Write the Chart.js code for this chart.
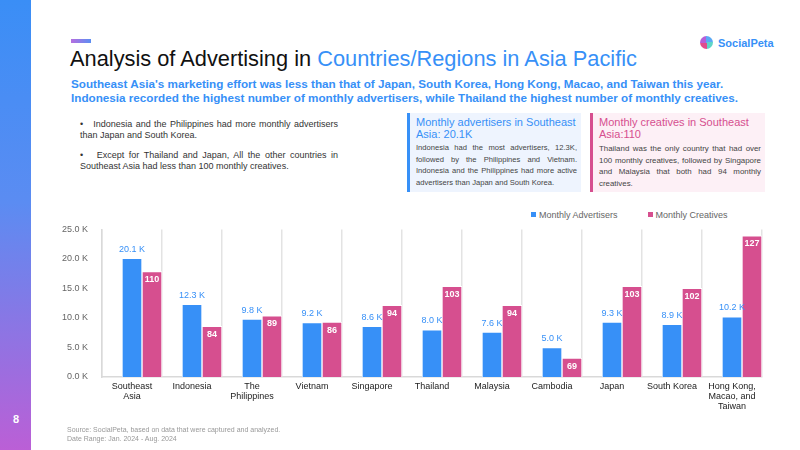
<!DOCTYPE html>
<html>
<head>
<meta charset="utf-8">
<script src="https://cdn.jsdelivr.net/npm/chart.js@4"></script>
<style>
  body { margin: 0; width: 800px; height: 450px; position: relative; overflow: hidden; background: #fff; font-family: "Liberation Sans", Arial, sans-serif; }
  .strip { position: absolute; left: 0; top: 0; width: 31px; height: 450px; background: linear-gradient(#3a8ef6, #5b8cf2 45%, #bb5fd6); }
  .pageno { position: absolute; left: 10px; top: 413px; width: 12px; text-align: center; color: #fff; font-weight: bold; font-size: 11px; }
  .accent { position: absolute; left: 71px; top: 39px; width: 20px; height: 4px; background: linear-gradient(90deg, #b56ee0, #5b8ef2); }
  h1 { position: absolute; left: 70px; top: 46px; margin: 0; font-weight: normal; font-size: 21.8px; color: #111; white-space: nowrap; }
  h1 span, .sub { color: #3790f7; }
  .sub { position: absolute; left: 71px; top: 77px; margin: 0; font-weight: bold; font-size: 11.7px; line-height: 14px; white-space: nowrap; }
  .logo { position: absolute; left: 700px; top: 36px; font-weight: bold; font-size: 11px; color: #3790f7; display: flex; align-items: center; gap: 5px; }
  .logo i { display: inline-block; width: 13px; height: 13px; border-radius: 50%; background: conic-gradient(#5aa9f5 0 25%, #5fd5c8 0 50%, #e04d8c 0 75%, #b55ed8 0); }
  .bullets { position: absolute; left: 80px; top: 119px; width: 258px; font-size: 9px; color: #333; line-height: 11px; text-align: justify; }
  .bullets p { margin: 0 0 8.5px 0; }
  .box { position: absolute; top: 113px; height: 79px; padding: 3px 4px 0 6px; box-sizing: border-box; }
  .box.blue { left: 407px; width: 174px; background: #eef4fe; border-left: 3px solid #3790f7; }
  .box.pink { left: 590px; width: 175px; background: #fdf0f6; border-left: 3px solid #d64f8f; }
  .box h3 { margin: 0; font-weight: normal; font-size: 11px; line-height: 12px; }
  .box.blue h3 { color: #3790f7; }
  .box.pink h3 { color: #d64f8f; }
  .box div { color: #444; line-height: 11.5px; text-align: justify; margin-top: 2px; }
  .box.blue div { font-size: 7.6px; }
  .box.pink div { font-size: 7.9px; margin-top: 3px; }
  .box .full { display: block; text-align-last: justify; }
  .legend { position: absolute; left: 531px; top: 210px; font-size: 9px; color: #666; display: flex; gap: 30px; white-space: nowrap; }
  .legend b { display: inline-block; width: 5px; height: 5px; margin-right: 3px; vertical-align: 1px; }
  #chartWrap { position: absolute; left: 50px; top: 218px; width: 714px; height: 209px; }
  .foot { position: absolute; left: 67px; top: 425px; font-size: 7px; color: #999; line-height: 9px; }
</style>
</head>
<body>
<div class="strip"></div>
<div class="pageno">8</div>
<div class="accent"></div>
<h1>Analysis of Advertising in <span>Countries/Regions in Asia Pacific</span></h1>
<p class="sub">Southeast Asia's marketing effort was less than that of Japan, South Korea, Hong Kong, Macao, and Taiwan this year.<br>Indonesia recorded the highest number of monthly advertisers, while Thailand the highest number of monthly creatives.</p>
<div class="logo"><i></i>SocialPeta</div>

<div class="bullets">
  <p>•&nbsp;&nbsp; Indonesia and the Philippines had more monthly advertisers than Japan and South Korea.</p>
  <p>•&nbsp;&nbsp; Except for Thailand and Japan, All the other countries in Southeast Asia had less than 100 monthly creatives.</p>
</div>

<div class="box blue">
  <h3>Monthly advertisers in Southeast Asia: 20.1K</h3>
  <div>Indonesia had the most advertisers, 12.3K, followed by the Philippines and Vietnam. Indonesia and the Philippines had more active advertisers than Japan and South Korea.</div>
</div>
<div class="box pink">
  <h3>Monthly creatives in Southeast Asia:110</h3>
  <div><span class="full">Thailand was the only country that had over</span>100 monthly creatives, followed by Singapore and Malaysia that both had 94 monthly creatives.</div>
</div>

<div class="legend">
  <span><b style="background:#3790f7"></b>Monthly Advertisers</span>
  <span><b style="background:#d64f8f"></b>Monthly Creatives</span>
</div>

<div id="chartWrap"><canvas id="barChart"></canvas></div>

<div class="foot">Source: SocialPeta, based on data that were captured and analyzed.<br>Date Range: Jan. 2024 - Aug. 2024</div>

<script>
const categories = [
    ['Southeast', 'Asia'], 'Indonesia', ['The', 'Philippines'], 'Vietnam', 'Singapore',
    'Thailand', 'Malaysia', 'Cambodia', 'Japan', 'South Korea', ['Hong Kong,', 'Macao, and', 'Taiwan']
];
// monthly advertisers, in thousands
const advertisers = [20.1, 12.3, 9.8, 9.2, 8.6, 8.0, 7.6, 5.0, 9.3, 8.9, 10.2];
const creatives = [110, 84, 89, 86, 94, 103, 94, 69, 103, 102, 127];
const yTicks = [0, 5, 10, 15, 20, 25];

const BLUE = '#3790f7';
const PINK = '#d64f8f';

// draws the value labels: blue above the advertiser bars, white inside the creative bars
const valueLabels = {
    id: 'valueLabels',
    afterDatasetsDraw(chart) {
        const ctx = chart.ctx;
        ctx.save();
        ctx.textAlign = 'center';
        ctx.textBaseline = 'middle';
        chart.getDatasetMeta(1).data.forEach((bar, i) => {
            ctx.font = '9px "Liberation Sans", Arial, sans-serif';
            ctx.fillStyle = BLUE;
            ctx.fillText(advertisers[i].toFixed(1) + ' K', bar.x, bar.y - 9);
        });
        chart.getDatasetMeta(2).data.forEach((bar, i) => {
            ctx.font = 'bold 9px "Liberation Sans", Arial, sans-serif';
            ctx.fillStyle = '#fff';
            ctx.fillText(String(creatives[i]), bar.x, bar.y + 8);
        });
        ctx.restore();
    }
};

const ctx = document.getElementById('barChart').getContext('2d');
new Chart(ctx, {
    type: 'bar',
    data: {
        labels: categories,
        datasets: [
            // empty slot so the two real bars sit on the right of each category
            { label: '', data: categories.map(() => null), backgroundColor: 'transparent' },
            { label: 'Monthly Advertisers', data: advertisers, backgroundColor: BLUE, borderColor: '#ffffff', borderWidth: 1, yAxisID: 'y' },
            { label: 'Monthly Creatives', data: creatives, backgroundColor: PINK, borderColor: '#ffffff', borderWidth: 1, yAxisID: 'y1' }
        ]
    },
    options: {
        responsive: true,
        maintainAspectRatio: false,
        animation: false,
        categoryPercentage: 1,
        barPercentage: 1,
        layout: { padding: { top: 4, right: 2, bottom: 0, left: 0 } },
        plugins: {
            legend: { display: false },
            tooltip: { enabled: false }
        },
        scales: {
            x: {
                grid: { display: true, offset: true, color: '#e3e3e3', lineWidth: 1.5, drawTicks: false },
                border: { color: '#d9d9d9', width: 1.5 },
                ticks: {
                    color: '#222',
                    font: { family: '"Liberation Sans", Arial, sans-serif', size: 9, lineHeight: 1.1 },
                    padding: 5,
                    maxRotation: 0,
                    autoSkip: false
                },
                afterFit(scale) { scale.height = 50; }
            },
            y: {
                min: 0,
                max: 25,
                afterBuildTicks(scale) { scale.ticks = yTicks.map(v => ({ value: v })); },
                grid: { display: false },
                border: { color: '#d9d9d9', width: 1.5 },
                ticks: {
                    color: '#666',
                    font: { family: '"Liberation Sans", Arial, sans-serif', size: 9 },
                    padding: 6,
                    callback: v => v.toFixed(1) + ' K'
                },
                afterFit(scale) { scale.width = 52; }
            },
            y1: {
                display: false,
                position: 'right',
                min: 60,
                max: 130
            }
        }
    },
    plugins: [valueLabels]
});
</script>
</body>
</html>
